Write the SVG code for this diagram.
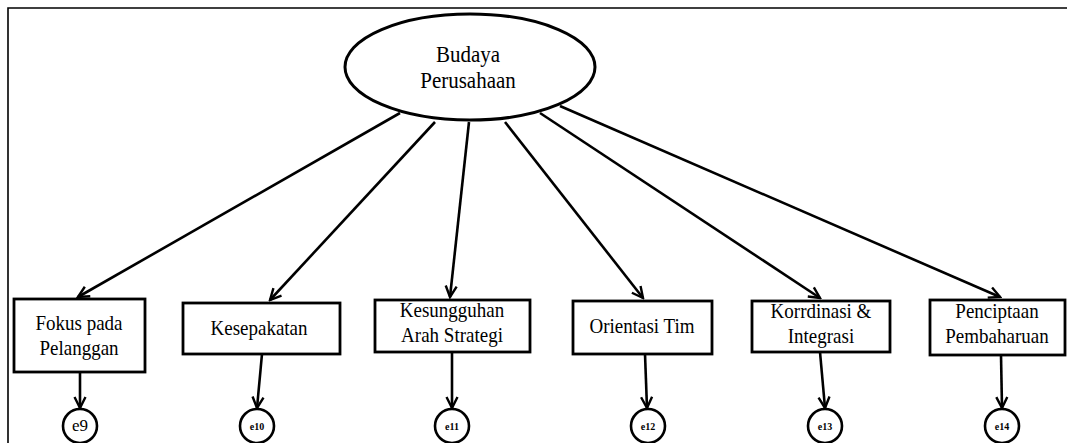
<svg xmlns="http://www.w3.org/2000/svg" width="1067" height="443" viewBox="0 0 1067 443">
  <style>
    .frame { fill: none; stroke: #000; stroke-width: 1.6; }
    .latent { fill: #fff; stroke: #000; stroke-width: 3; }
    .box { fill: #fff; stroke: #000; stroke-width: 2.8; }
    .err { fill: #fff; stroke: #000; stroke-width: 2.6; }
    .lbl { font-family: "Liberation Serif", "Times New Roman", serif; font-size: 19px; fill: #000; text-anchor: middle; }
    .big { font-size: 21px; }
    .elbl { font-family: "Liberation Serif", "Times New Roman", serif; font-size: 10px; font-weight: bold; fill: #000; text-anchor: middle; }
    .edge { stroke: #000; stroke-width: 2.6; fill: none; marker-end: url(#arrow); }
  </style>
  <defs>
    <marker id="arrow" viewBox="0 0 14 14" refX="12" refY="7" markerWidth="14" markerHeight="14" markerUnits="userSpaceOnUse" orient="auto">
      <path d="M1,1.5 L12,7 L1,12.5" fill="none" stroke="#000" stroke-width="2.4"/>
    </marker>
  </defs>

  <rect width="1067" height="443" fill="#fff"/>
  <!-- page frame -->
  <path class="frame" d="M8,443 V8 H1067"/>

  <!-- connectors -->
  <g id="connectors">
    <line class="edge" x1="400" y1="113" x2="78" y2="297"/>
    <line class="edge" x1="435" y1="122" x2="270" y2="300"/>
    <line class="edge" x1="469" y1="122" x2="450" y2="297"/>
    <line class="edge" x1="505" y1="122" x2="643" y2="298"/>
    <line class="edge" x1="540" y1="113" x2="820" y2="298"/>
    <line class="edge" x1="560" y1="106" x2="1000" y2="297"/>
    <line class="edge" x1="80" y1="372" x2="80" y2="408"/>
    <line class="edge" x1="262" y1="354" x2="257" y2="408"/>
    <line class="edge" x1="452" y1="352" x2="452" y2="408"/>
    <line class="edge" x1="645" y1="354" x2="647" y2="408"/>
    <line class="edge" x1="820" y1="352" x2="825" y2="408"/>
    <line class="edge" x1="1001" y1="355" x2="1002" y2="408"/>
  </g>

  <!-- latent construct -->
  <g id="budaya">
    <ellipse class="latent" cx="470" cy="67" rx="125" ry="53"/>
    <text class="lbl big" transform="translate(468 62) scale(1 1.08)">Budaya</text>
    <text class="lbl big" transform="translate(468 88) scale(1 1.08)">Perusahaan</text>
  </g>

  <!-- indicators (labels stretched slightly taller) -->
  <g id="fokus">
    <rect class="box" x="14" y="299" width="131" height="73"/>
    <text class="lbl" transform="translate(79 330) scale(1 1.15)">Fokus pada</text>
    <text class="lbl" transform="translate(79 355) scale(1 1.15)">Pelanggan</text>
  </g>
  <g id="kesepakatan">
    <rect class="box" x="183" y="303" width="157" height="51"/>
    <text class="lbl" transform="translate(259 335) scale(1 1.15)">Kesepakatan</text>
  </g>
  <g id="kesungguhan">
    <rect class="box" x="375" y="300" width="155" height="52"/>
    <text class="lbl" transform="translate(452 317) scale(1 1.15)">Kesungguhan</text>
    <text class="lbl" transform="translate(452 342) scale(1 1.15)">Arah Strategi</text>
  </g>
  <g id="orientasi">
    <rect class="box" x="573" y="301" width="139" height="53"/>
    <text class="lbl" transform="translate(642 333) scale(1 1.15)">Orientasi Tim</text>
  </g>
  <g id="koordinasi">
    <rect class="box" x="752" y="301" width="138" height="51"/>
    <text class="lbl" transform="translate(821 318) scale(1 1.15)">Korrdinasi &amp;</text>
    <text class="lbl" transform="translate(821 343) scale(1 1.15)">Integrasi</text>
  </g>
  <g id="penciptaan">
    <rect class="box" x="930" y="300" width="135" height="55"/>
    <text class="lbl" transform="translate(997 318) scale(1 1.15)">Penciptaan</text>
    <text class="lbl" transform="translate(997 343) scale(1 1.15)">Pembaharuan</text>
  </g>

  <!-- error terms -->
  <g id="e9">
    <circle class="err" cx="80" cy="426" r="17"/>
    <text x="80" y="431" font-family="Liberation Serif, serif" font-size="17" text-anchor="middle">e9</text>
  </g>
  <g id="e10">
    <circle class="err" cx="257" cy="426" r="17"/>
    <text class="elbl" x="257" y="430">e10</text>
  </g>
  <g id="e11">
    <circle class="err" cx="452" cy="426" r="17"/>
    <text class="elbl" x="452" y="430">e11</text>
  </g>
  <g id="e12">
    <circle class="err" cx="648" cy="426" r="17"/>
    <text class="elbl" x="648" y="430">e12</text>
  </g>
  <g id="e13">
    <circle class="err" cx="825" cy="426" r="17"/>
    <text class="elbl" x="825" y="430">e13</text>
  </g>
  <g id="e14">
    <circle class="err" cx="1002" cy="426" r="17"/>
    <text class="elbl" x="1002" y="430">e14</text>
  </g>
</svg>
